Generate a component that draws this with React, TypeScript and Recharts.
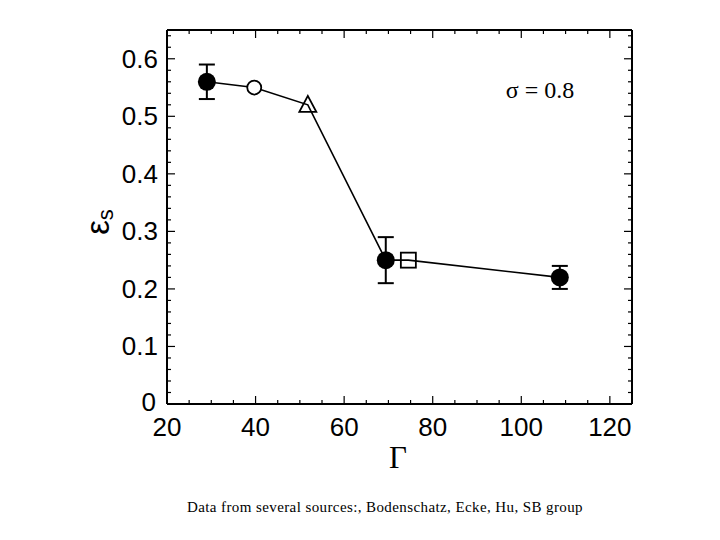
import {
  ComposedChart,
  Line,
  Scatter,
  ErrorBar,
  XAxis,
  YAxis,
  Customized,
} from "recharts";

// gamma / epsilon_s readings, ordered along the connecting curve
const CURVE_X = [29, 39.7, 51.8, 69.4, 74.5, 108.7];
const CURVE_Y = [0.56, 0.55, 0.52, 0.25, 0.25, 0.22];

// filled circles with error bars (+/-)
const FILLED_X = [29, 69.4, 108.7];
const FILLED_Y = [0.56, 0.25, 0.22];
const FILLED_ERR = [0.03, 0.04, 0.02];

const OPEN_CIRCLE = { x: 39.7, y: 0.55 };
const TRIANGLE = { x: 51.8, y: 0.52 };
const SQUARE = { x: 74.5, y: 0.25 };

const X_MAJOR = [20, 40, 60, 80, 100, 120];
const X_TICKS = [20, 25, 30, 35, 40, 45, 50, 55, 60, 65, 70, 75, 80, 85, 90, 95, 100, 105, 110, 115, 120, 125];
const Y_MAJOR_LABELS = ["0", "0.1", "0.2", "0.3", "0.4", "0.5", "0.6"];
const Y_TICKS = Array.from({ length: 33 }, (_, i) => Math.round(i * 2) / 100);

const curveData = CURVE_X.map((x, i) => ({ x, y: CURVE_Y[i] }));
const filledData = FILLED_X.map((x, i) => ({ x, y: FILLED_Y[i], err: FILLED_ERR[i] }));

const SANS = "'Liberation Sans', Arial, Helvetica, sans-serif";
const SERIF = "'Liberation Serif', 'Times New Roman', serif";

const isYMajor = (v: number) => Math.abs(v * 10 - Math.round(v * 10)) < 1e-6;

const makeXTick = (side: "bottom" | "top") => (props: any) => {
  const { x, y, payload } = props;
  const major = X_MAJOR.includes(payload.value);
  const len = major ? 8 : 4;
  const dir = side === "bottom" ? -1 : 1;
  return (
    <g>
      <line x1={x} x2={x} y1={y} y2={y + dir * len} stroke="#000" strokeWidth={1.2} />
      {side === "bottom" && major && (
        <text x={x} y={y + 32} textAnchor="middle" fontSize={26} fontFamily={SANS} fill="#000">
          {payload.value}
        </text>
      )}
    </g>
  );
};

const makeYTick = (side: "left" | "right") => (props: any) => {
  const { x, y, payload } = props;
  const major = isYMajor(payload.value);
  const len = major ? 8 : 4;
  const dir = side === "left" ? 1 : -1;
  const label = major ? Y_MAJOR_LABELS[Math.round(payload.value * 10)] : null;
  const zero = payload.value === 0;
  return (
    <g>
      <line x1={x} x2={x + dir * len} y1={y} y2={y} stroke="#000" strokeWidth={1.2} />
      {side === "left" && label && (
        <text
          x={x - (zero ? 11 : 9)}
          y={y + (zero ? 7 : 9)}
          textAnchor="end"
          fontSize={26}
          fontFamily={SANS}
          fill="#000"
        >
          {label}
        </text>
      )}
    </g>
  );
};

const FilledDot = (p: any) => <circle cx={p.cx} cy={p.cy} r={9} fill="#000" />;
const OpenCircle = (p: any) => (
  <circle cx={p.cx} cy={p.cy} r={7} fill="#fff" stroke="#000" strokeWidth={1.8} />
);
const Triangle = (p: any) => (
  <polygon
    points={`${p.cx},${p.cy - 9} ${p.cx - 8.5},${p.cy + 7} ${p.cx + 8.5},${p.cy + 7}`}
    fill="none"
    stroke="#000"
    strokeWidth={1.8}
  />
);
const Square = (p: any) => (
  <rect x={p.cx - 7.5} y={p.cy - 7.5} width={15} height={15} fill="none" stroke="#000" strokeWidth={1.8} />
);

const Annotations = () => (
  <g>
    <text x={540} y={98} textAnchor="middle" fontSize={24} fontFamily={SERIF} fill="#000">
      σ = 0.8
    </text>
    <text x={398} y={468} textAnchor="middle" fontSize={31} fontFamily={SERIF} fill="#000">
      Γ
    </text>
    <text transform="translate(109, 222) rotate(-90)" textAnchor="middle" fontFamily={SANS} fill="#000">
      <tspan fontSize={33}>ε</tspan>
      <tspan fontSize={22} dy={4}>s</tspan>
    </text>
    <text x={385} y={512} textAnchor="middle" fontSize={15} letterSpacing={0.4} fontFamily={SERIF} fill="#000">
      Data from several sources:, Bodenschatz, Ecke, Hu, SB group
    </text>
  </g>
);

export default function App() {
  return (
    <div style={{ width: 720, height: 540, background: "#fff" }}>
      <style>{"body{margin:0}"}</style>
      <ComposedChart
        width={720}
        height={540}
        margin={{ top: 29, right: 87, bottom: 135, left: 166 }}
      >
        <XAxis
          xAxisId="b"
          type="number"
          dataKey="x"
          orientation="bottom"
          domain={[20, 125]}
          ticks={X_TICKS}
          interval={0}
          height={1}
          tickSize={0}
          tickMargin={0}
          tickLine={false}
          tick={makeXTick("bottom")}
          axisLine={{ stroke: "#000", strokeWidth: 2 }}
          allowDataOverflow
        />
        <XAxis
          xAxisId="t"
          type="number"
          dataKey="x"
          orientation="top"
          domain={[20, 125]}
          ticks={X_TICKS}
          interval={0}
          height={1}
          tickSize={0}
          tickMargin={0}
          tickLine={false}
          tick={makeXTick("top")}
          axisLine={{ stroke: "#000", strokeWidth: 2 }}
          allowDataOverflow
        />
        <YAxis
          yAxisId="l"
          type="number"
          orientation="left"
          domain={[0, 0.65]}
          ticks={Y_TICKS}
          interval={0}
          width={1}
          tickSize={0}
          tickMargin={0}
          tickLine={false}
          tick={makeYTick("left")}
          axisLine={{ stroke: "#000", strokeWidth: 2 }}
          allowDataOverflow
        />
        <YAxis
          yAxisId="r"
          type="number"
          orientation="right"
          domain={[0, 0.65]}
          ticks={Y_TICKS}
          interval={0}
          width={1}
          tickSize={0}
          tickMargin={0}
          tickLine={false}
          tick={makeYTick("right")}
          axisLine={{ stroke: "#000", strokeWidth: 2 }}
          allowDataOverflow
        />
        <Line
          xAxisId="b"
          yAxisId="l"
          data={curveData}
          dataKey="y"
          type="linear"
          stroke="#000"
          strokeWidth={1.6}
          dot={false}
          activeDot={false}
          isAnimationActive={false}
        />
        <Scatter
          xAxisId="b"
          yAxisId="l"
          data={filledData}
          dataKey="y"
          shape={FilledDot}
          isAnimationActive={false}
        >
          <ErrorBar dataKey="err" direction="y" width={8} stroke="#000" strokeWidth={2} isAnimationActive={false} />
        </Scatter>
        <Scatter xAxisId="b" yAxisId="l" data={[OPEN_CIRCLE]} dataKey="y" shape={OpenCircle} isAnimationActive={false} />
        <Scatter xAxisId="b" yAxisId="l" data={[TRIANGLE]} dataKey="y" shape={Triangle} isAnimationActive={false} />
        <Scatter xAxisId="b" yAxisId="l" data={[SQUARE]} dataKey="y" shape={Square} isAnimationActive={false} />
        <Customized component={Annotations} />
      </ComposedChart>
    </div>
  );
}
